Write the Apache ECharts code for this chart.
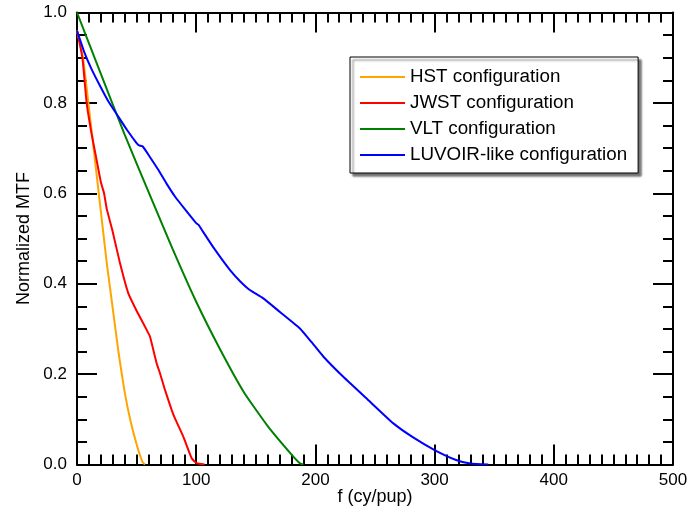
<!DOCTYPE html>
<html>
<head>
<meta charset="utf-8">
<script src="https://cdn.jsdelivr.net/npm/echarts@6/dist/echarts.min.js"></script>
<style>
  html, body { margin: 0; padding: 0; background: #fff; }
  #chart { width: 691px; height: 516px; }
</style>
</head>
<body>
<div id="chart"></div>
<script>
// Normalized MTF versus spatial frequency for four aperture configurations
const seriesNames = ['HST configuration', 'JWST configuration', 'VLT configuration', 'LUVOIR-like configuration'];
const seriesColors = ['#FFA500', '#FF0000', '#008000', '#0000FF'];

const hstF = [0, 5, 10, 15, 20, 25, 30, 35, 40, 45, 50, 55, 57];
const hstV = [0.96, 0.90, 0.79, 0.675, 0.56, 0.445, 0.345, 0.245, 0.16, 0.095, 0.045, 0.005, 0];

const jwstF = [0, 4.5, 8.1, 12, 16, 20, 22.7, 25, 29.6, 36.1, 43, 50, 58.4, 61.2, 66.8, 69.6, 73.8, 79.4, 82.2, 89.2, 96.2, 100.4, 107];
const jwstV = [0.96, 0.90, 0.80, 0.735, 0.68, 0.625, 0.60, 0.565, 0.519, 0.445, 0.379, 0.34, 0.298, 0.283, 0.224, 0.202, 0.165, 0.121, 0.102, 0.0615, 0.0137, 0.003, 0];

const vltF = [0, 20, 40, 60, 80, 100, 120, 140, 160, 180, 187, 190];
const vltV = [1.0, 0.864, 0.73, 0.603, 0.478, 0.36, 0.255, 0.16, 0.085, 0.022, 0.003, 0];

const luvoirF = [0, 2.5, 6, 12, 18.5, 26, 34.6, 42, 50, 52, 55, 61, 68.2, 75, 82.2, 92, 100, 102, 104, 115, 128.4, 137, 145, 156, 170, 187, 197, 206.6, 223.4, 245.8, 265.4, 282, 300, 318, 330, 345];
const luvoirV = [0.96, 0.94, 0.913, 0.876, 0.842, 0.805, 0.77, 0.74, 0.711, 0.706, 0.704, 0.681, 0.652, 0.622, 0.593, 0.56, 0.534, 0.53, 0.522, 0.478, 0.43, 0.405, 0.386, 0.368, 0.338, 0.301, 0.27, 0.239, 0.194, 0.139, 0.091, 0.06, 0.032, 0.01, 0.002, 0];

const xTicks = [0, 100, 200, 300, 400, 500];
const yTicks = [0.0, 0.2, 0.4, 0.6, 0.8, 1.0];

const curves = [[hstF, hstV], [jwstF, jwstV], [vltF, vltV], [luvoirF, luvoirV]];

const FONT = 'Liberation Sans';
const axisLine = { lineStyle: { color: '#000', width: 2 } };

function frameAxis(isX, showLabels, position) {
  const ticks = isX ? xTicks : yTicks;
  return {
    type: 'value',
    position: position,
    min: ticks[0],
    max: ticks[ticks.length - 1],
    interval: ticks[1] - ticks[0],
    axisLine: Object.assign({ show: true, onZero: false }, axisLine),
    axisTick: { show: true, inside: true, length: 20, lineStyle: { color: '#000', width: 2 } },
    minorTick: { show: true, splitNumber: isX ? 10 : 4, length: 10, lineStyle: { color: '#000', width: 2 } },
    splitLine: { show: false },
    minorSplitLine: { show: false },
    axisLabel: {
      show: showLabels,
      color: '#000',
      fontFamily: FONT,
      fontSize: 17,
      margin: isX ? 7 : 10,
      formatter: isX ? (v => String(Math.round(v))) : (v => v.toFixed(1))
    }
  };
}

const xBottom = Object.assign(frameAxis(true, true, 'bottom'), {
  name: 'f (cy/pup)', nameLocation: 'middle', nameGap: 24, nameMoveOverlap: false,
  nameTextStyle: { color: '#000', fontFamily: FONT, fontSize: 18, verticalAlign: 'top' }
});
const xTop = frameAxis(true, false, 'top');
const yLeft = Object.assign(frameAxis(false, true, 'left'), {
  name: 'Normalized MTF', nameLocation: 'middle', nameGap: 44, nameMoveOverlap: false,
  nameTextStyle: { color: '#000', fontFamily: FONT, fontSize: 18 }
});
const yRight = frameAxis(false, false, 'right');

const chart = echarts.init(document.getElementById('chart'), null, { renderer: 'canvas' });
chart.setOption({
  animation: false,
  backgroundColor: '#fff',
  grid: { left: 77, right: 18, top: 12.5, bottom: 51.5, containLabel: false },
  xAxis: [xBottom, xTop],
  yAxis: [yLeft, yRight],
  legend: {
    orient: 'vertical',
    left: 350,
    top: 57,
    padding: [10, 11, 8, 10],
    itemGap: 6,
    itemWidth: 45,
    itemHeight: 2,
    icon: 'rect',
    backgroundColor: '#fff',
    borderColor: '#000',
    borderWidth: 1,
    borderRadius: 0,
    shadowColor: 'rgba(0,0,0,0.55)',
    shadowBlur: 2,
    shadowOffsetX: 3,
    shadowOffsetY: 3,
    textStyle: { color: '#000', fontFamily: FONT, fontSize: 18.8, lineHeight: 20 },
    data: seriesNames
  },
  series: curves.map((c, i) => ({
    name: seriesNames[i],
    type: 'line',
    xAxisIndex: 0,
    yAxisIndex: 0,
    showSymbol: false,
    symbol: 'none',
    smooth: 0.15,
    color: seriesColors[i],
    lineStyle: { color: seriesColors[i], width: 2 },
    data: c[0].map((f, k) => [f, c[1][k]])
  }))
});
</script>
</body>
</html>
